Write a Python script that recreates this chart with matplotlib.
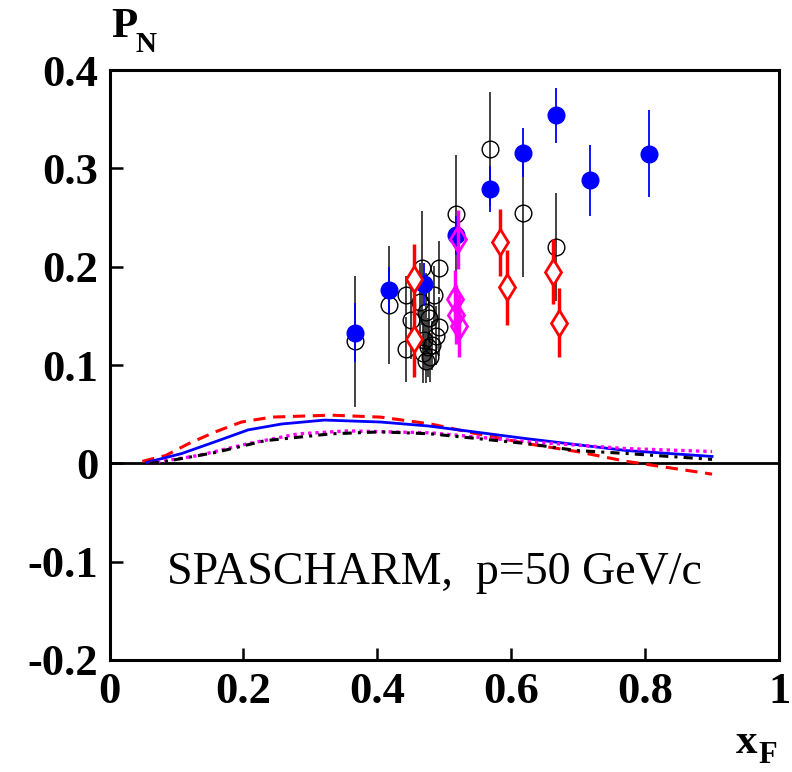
import numpy as np
import matplotlib
matplotlib.use('Agg')
import matplotlib.pyplot as plt

plt.rcParams['font.family'] = ['Liberation Serif', 'DejaVu Serif']

# filled blue circles: xF, PN, error
blue_x = [0.366, 0.418, 0.469, 0.518, 0.568, 0.617, 0.667, 0.717, 0.806]
blue_y = [0.133, 0.176, 0.182, 0.232, 0.279, 0.316, 0.354, 0.288, 0.315]
blue_e = [0.030, 0.024, 0.022, 0.020, 0.023, 0.025, 0.028, 0.036, 0.044]

# open black circles
open_x = [0.366, 0.418, 0.568, 0.517, 0.618, 0.667, 0.467, 0.492, 0.443, 0.485,
          0.463, 0.472, 0.451, 0.477, 0.492, 0.487, 0.443, 0.470, 0.475, 0.468,
          0.478, 0.472, 0.481]
open_y = [0.124, 0.161, 0.320, 0.254, 0.255, 0.220, 0.199, 0.199, 0.171, 0.171,
          0.164, 0.154, 0.146, 0.148, 0.139, 0.130, 0.116, 0.125, 0.118, 0.112,
          0.108, 0.104, 0.120]
open_e = [0.067, 0.060, 0.058, 0.060, 0.065, 0.055, 0.058, 0.027, 0.020, 0.030,
          0.040, 0.040, 0.040, 0.035, 0.030, 0.030, 0.033, 0.030, 0.030, 0.030,
          0.025, 0.022, 0.025]

# red open diamonds
red_x = [0.455, 0.455, 0.583, 0.593, 0.663, 0.672]
red_y = [0.187, 0.126, 0.225, 0.179, 0.195, 0.143]
red_e = [0.036, 0.038, 0.034, 0.038, 0.033, 0.035]

# magenta open diamonds
mag_x = [0.520, 0.516, 0.518, 0.522]
mag_y = [0.228, 0.167, 0.151, 0.140]
mag_e = [0.030, 0.030, 0.030, 0.032]

# model curves
cr_x = [0.049, 0.084, 0.118, 0.158, 0.197, 0.242, 0.331, 0.405, 0.48, 0.549, 0.624, 0.698, 0.772, 0.9]
cr_y = [0.002, 0.008, 0.020, 0.032, 0.042, 0.047, 0.049, 0.047, 0.040, 0.030, 0.020, 0.012, 0.002, -0.011]
cb_x = [0.056, 0.108, 0.158, 0.207, 0.257, 0.321, 0.405, 0.476, 0.624, 0.772, 0.9]
cb_y = [0.001, 0.010, 0.022, 0.034, 0.040, 0.044, 0.042, 0.038, 0.025, 0.013, 0.007]
cm_x = [0.06, 0.133, 0.207, 0.282, 0.356, 0.48, 0.624, 0.772, 0.9]
cm_y = [0.0, 0.008, 0.020, 0.030, 0.033, 0.031, 0.022, 0.015, 0.012]
ck_x = [0.06, 0.084, 0.158, 0.232, 0.331, 0.405, 0.48, 0.624, 0.698, 0.772, 0.9]
ck_y = [0.0, 0.002, 0.011, 0.023, 0.030, 0.032, 0.030, 0.020, 0.013, 0.010, 0.004]

xticks = [0, 0.2, 0.4, 0.6, 0.8, 1]
xtick_labels = ['0', '0.2', '0.4', '0.6', '0.8', '1']
yticks = [-0.2, -0.1, 0, 0.1, 0.2, 0.3, 0.4]
ytick_labels = ['-0.2', '-0.1', '0', '0.1', '0.2', '0.3', '0.4']

fig = plt.figure(figsize=(7.92, 7.72), dpi=100)
ax = fig.add_axes([0.1383, 0.1451, 0.8453, 0.7642])

ax.axhline(0, color='black', lw=2, zorder=1)

ax.plot(cr_x, cr_y, color='red', lw=2.2, ls=(0, (4, 2.5)), zorder=2)
ax.plot(cb_x, cb_y, color='blue', lw=2, ls='-', zorder=2)
ax.plot(cm_x, cm_y, color='magenta', lw=2.4, ls=(0, (1, 1.2)), zorder=2)
ax.plot(ck_x, ck_y, color='black', lw=2.2, ls=(0, (3, 2, 1, 2)), zorder=2)

ax.errorbar(open_x, open_y, yerr=open_e, fmt='o', ms=12, mfc='none', mec='black',
            mew=1.0, ecolor='#222222', elinewidth=1.2, capsize=0, zorder=3)
ax.errorbar(blue_x, blue_y, yerr=blue_e, fmt='o', ms=12, mfc='blue', mec='blue',
            ecolor='blue', elinewidth=1.3, capsize=0, zorder=4)
ax.errorbar(red_x, red_y, yerr=red_e, fmt='d', ms=13, mfc='white', mec='red',
            mew=2, ecolor='red', elinewidth=2.5, capsize=0, zorder=5)
ax.errorbar(mag_x, mag_y, yerr=mag_e, fmt='d', ms=13, mfc='none', mec='magenta',
            mew=2, ecolor='magenta', elinewidth=2.5, capsize=0, zorder=6)

ax.set_xlim(0, 1)
ax.set_ylim(-0.2, 0.4)
ax.set_xticks(xticks)
ax.set_xticklabels(xtick_labels, fontsize=32, fontweight='bold')
ax.set_yticks(yticks)
ax.set_yticklabels(ytick_labels, fontsize=32, fontweight='bold')
ax.tick_params(direction='in', length=9, width=1.8, pad=8)
ax.tick_params(axis='x', pad=9)
for s in ax.spines.values():
    s.set_linewidth(2.2)

ax.text(0.086, -0.123, 'SPASCHARM,  p=50 GeV/c', fontsize=33)

fig.text(0.140, 0.952, 'P', fontsize=31, fontweight='bold', va='baseline')
fig.text(0.171, 0.933, 'N', fontsize=21, fontweight='bold', va='baseline')
fig.text(0.929, 0.024, 'x', fontsize=31, fontweight='bold', va='baseline')
fig.text(0.957, 0.002, 'F', fontsize=22, fontweight='bold', va='bottom')

fig.savefig('out.png', dpi=100)
